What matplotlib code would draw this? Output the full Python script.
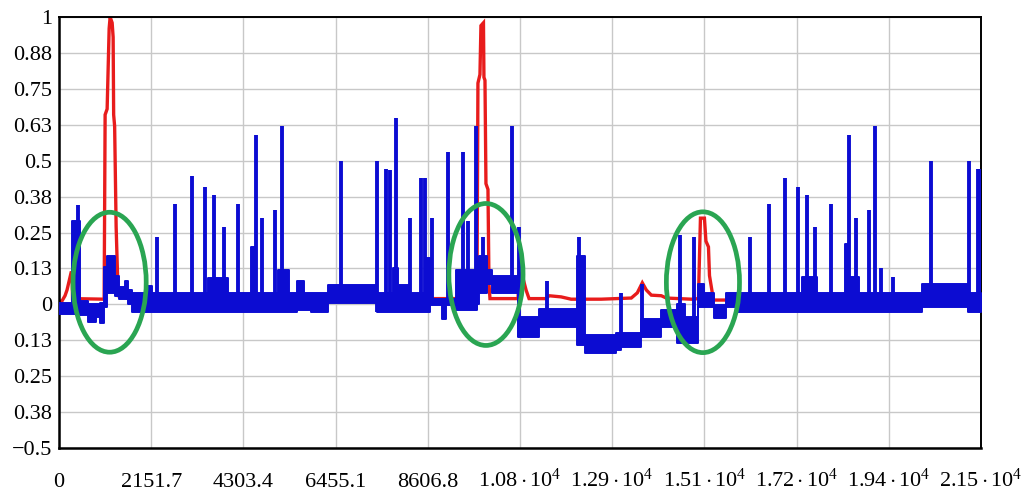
import numpy as np
import matplotlib
matplotlib.use("Agg")
import matplotlib.pyplot as plt
from matplotlib.patches import Ellipse

plt.rcParams['font.family'] = ['Liberation Serif', 'DejaVu Serif']
plt.rcParams['mathtext.fontset'] = 'custom'
plt.rcParams['mathtext.rm'] = 'Liberation Serif'
plt.rcParams['mathtext.it'] = 'Liberation Serif:italic'

# ---------------- data ----------------
x_ticks = [0, 2151.7, 4303.4, 6455.1, 8606.8, 10758.5, 12910.2, 15061.9, 17213.6, 19365.3, 21517]
x_tick_labels = ['0', '2151.7', '4303.4', '6455.1', '8606.8',
                 r'$1.08\cdot10^{4}$', r'$1.29\cdot10^{4}$', r'$1.51\cdot10^{4}$',
                 r'$1.72\cdot10^{4}$', r'$1.94\cdot10^{4}$', r'$2.15\cdot10^{4}$']
y_ticks = [1, 0.875, 0.75, 0.625, 0.5, 0.375, 0.25, 0.125, 0, -0.125, -0.25, -0.375, -0.5]
y_tick_labels = ['1', '0.88', '0.75', '0.63', '0.5', '0.38', '0.25', '0.13', '0',
                 '0.13', '0.25', '0.38', '\u22120.5']

# blue signal: dense band (step segments: start x, lower, upper)
band_x = [0, 304, 491, 678, 865, 959, 1053, 1123, 1310, 1403, 1544, 1614, 1707, 2012, 2175,
          3485, 3953, 4491, 4608, 5122, 5356, 5543, 5707, 5871, 6269, 7415, 7789, 7906, 8163,
          8561, 8655, 8935, 9029, 9262, 9754, 9801, 9988, 10105, 10713, 11204, 12093, 12280,
          13005, 13122, 13590, 14057, 14431, 14618, 14923, 15063, 15297, 15578, 15812, 17332,
          17683, 18338, 18431, 18665, 20140, 21215, 21517]
band_lo = [-0.035, -0.035, -0.038, -0.06, -0.045, -0.065, -0.01, 0.04, 0.03, 0.02, 0.02, 0.0,
           -0.028, -0.028, -0.028, -0.028, -0.028, -0.028, -0.028, -0.028, -0.028, -0.02, -0.02,
           -0.028, 0.005, -0.028, -0.028, -0.028, -0.028, -0.028, -0.003, -0.05, -0.003, -0.02,
           0.0, 0.04, 0.07, 0.038, -0.115, -0.08, -0.14, -0.17, -0.16, -0.15, -0.115, -0.08,
           -0.135, -0.135, -0.01, -0.01, -0.048, -0.01, -0.028, -0.028, -0.028, -0.028, -0.028,
           -0.028, -0.01, -0.028, -0.028]
band_hi = [0.005, 0.29, 0.01, 0.0, 0.0, 0.005, 0.13, 0.17, 0.10, 0.06, 0.083, 0.05, 0.04, 0.065,
           0.038, 0.09, 0.038, 0.20, 0.038, 0.12, 0.038, 0.08, 0.038, 0.038, 0.066, 0.038, 0.125,
           0.066, 0.038, 0.16, 0.017, 0.017, 0.017, 0.12, 0.15, 0.17, 0.12, 0.10, -0.045, -0.015,
           0.17, -0.108, -0.10, -0.10, -0.05, -0.02, 0.0, -0.045, 0.07, 0.038, -0.003, 0.038,
           0.038, 0.094, 0.038, 0.21, 0.094, 0.038, 0.07, 0.038, 0.038]

# blue signal: spikes (x, peak value)
spike_x = [444, 2292, 2713, 3111, 3415, 3625, 3859, 4187, 4608, 4748, 5052, 5193, 6573, 7415,
           7625, 7719, 7859, 8187, 8444, 8537, 8701, 9075, 9426, 9543, 9730, 9894, 10572, 10736,
           11391, 12139, 13122, 13613, 14502, 14829, 16116, 16560, 16934, 17238, 17449, 17636,
           18010, 18431, 18595, 18899, 19039, 19180, 19460, 20349, 21238, 21440, 21500]
spike_top = [0.345, 0.236, 0.35, 0.445, 0.41, 0.38, 0.27, 0.35, 0.59, 0.30, 0.33, 0.62, 0.50,
             0.50, 0.47, 0.467, 0.65, 0.30, 0.44, 0.44, 0.30, 0.53, 0.53, 0.29, 0.62, 0.235,
             0.62, 0.27, 0.083, 0.235, 0.04, 0.07, 0.24, 0.235, 0.235, 0.35, 0.44, 0.41, 0.38,
             0.27, 0.35, 0.59, 0.30, 0.33, 0.62, 0.125, 0.095, 0.50, 0.50, 0.47, 0.47]

# red signal
red_x = [0, 70, 140, 187, 234, 281, 304, 316, 1053, 1076, 1123, 1170, 1193, 1240, 1263, 1275,
         1298, 1333, 1380, 1614, 5637, 9754, 9777, 9824, 9847, 9906, 9917, 9941, 9964, 10011,
         10035, 10058, 10713, 10736, 10830, 10900, 10970, 11368, 11438, 11718, 11952, 12654,
         13356, 13496, 13613, 13707, 13824, 14057, 14174, 14759, 14923, 14970, 15063, 15098,
         15157, 15181, 15274, 15578, 21425, 21495, 21517]
red_y = [0.01, 0.012, 0.03, 0.05, 0.08, 0.11, 0.11, 0.02, 0.018, 0.66, 0.68, 0.96, 1.0, 0.98,
         0.93, 0.66, 0.62, 0.27, 0.03, 0.02, 0.02, 0.02, 0.77, 0.80, 0.97, 0.98, 0.79, 0.78,
         0.42, 0.40, 0.07, 0.02, 0.02, 0.11, 0.09, 0.05, 0.02, 0.02, 0.03, 0.026, 0.018,
         0.018, 0.022, 0.04, 0.075, 0.05, 0.032, 0.03, 0.022, 0.018, 0.02, 0.30, 0.30, 0.22,
         0.20, 0.10, 0.015, 0.015, 0.015, 0.04, 0.07]

# highlighted regions (center x, center y, width, height)
ell_cx = [1181, 9964, 15028]
ell_cy = [0.077, 0.104, 0.077]
ell_w = [1707, 1731, 1707]
ell_h = [0.487, 0.494, 0.49]

# ---------------- plot ----------------
BLUE = '#0c0cd2'
RED = '#e81c1c'
GREEN = '#2aa552'

fig = plt.figure(figsize=(10.3, 4.95), dpi=100)
ax = fig.add_axes([0.0573, 0.0949, 0.8951, 0.8707])

ax.plot(red_x, red_y, color=RED, lw=2.4, zorder=2, solid_joinstyle='miter')

bx = np.array(band_x, dtype=float)
blo = np.array(band_lo)
bhi = np.array(band_hi)
ax.fill_between(bx, blo, bhi, step='post', color=BLUE, lw=1.4, edgecolor=BLUE, zorder=3)

sx = np.array(spike_x, dtype=float)
idx = np.clip(np.searchsorted(bx, sx, side='right') - 1, 0, len(bx) - 1)
base = blo[idx]
ax.vlines(sx, base, spike_top, color=BLUE, lw=2.8, zorder=3)

for cx, cy, w, h in zip(ell_cx, ell_cy, ell_w, ell_h):
    ax.add_patch(Ellipse((cx, cy), w, h, fill=False, edgecolor=GREEN, lw=3.4, zorder=5))

ax.set_xlim(0, 21517)
ax.set_ylim(-0.5, 1)
ax.set_xticks(x_ticks)
ax.set_xticklabels(x_tick_labels)
ax.set_yticks(y_ticks)
ax.set_yticklabels(y_tick_labels)
ax.grid(True, color='#c8c8c8', lw=1.0, zorder=0)
ax.set_axisbelow(True)
ax.tick_params(axis='both', length=0, labelsize=16)
ax.tick_params(axis='y', pad=5)
ax.tick_params(axis='x', pad=28)
for lab in ax.get_xticklabels():
    lab.set_verticalalignment('baseline')

for side in ['left', 'bottom']:
    ax.spines[side].set_linewidth(1.8)
for side in ['top', 'right']:
    ax.spines[side].set_linewidth(1.4)
for s in ax.spines.values():
    s.set_color('black')

fig.savefig('out.png', dpi=100)
